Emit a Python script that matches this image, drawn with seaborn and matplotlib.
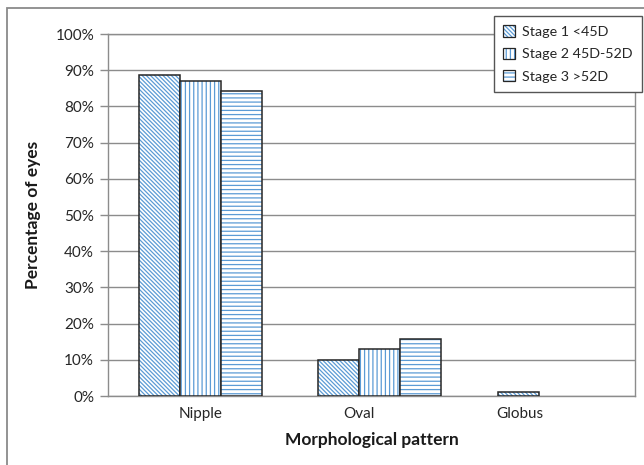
import matplotlib
matplotlib.use("Agg")
import matplotlib.pyplot as plt
from matplotlib.patches import Rectangle, Patch
from matplotlib.colors import to_rgba
import pandas as pd
import seaborn as sns

# Data: percentage of eyes per morphological pattern and keratoconus stage
patterns = ["Nipple", "Oval", "Globus"]
stages = ["Stage 1 <45D", "Stage 2 45D-52D", "Stage 3 >52D"]
stage1 = [88.8, 9.9, 1.1]
stage2 = [87.1, 13.0, 0.0]
stage3 = [84.3, 15.7, 0.0]
y_ticks = [0, 10, 20, 30, 40, 50, 60, 70, 80, 90, 100]

rows = []
for stage, vals in zip(stages, [stage1, stage2, stage3]):
    for pat, v in zip(patterns, vals):
        rows.append({"pattern": pat, "stage": stage, "pct": v})
df = pd.DataFrame(rows)

sns.set_theme(style="white")
plt.rcParams["font.family"] = ["Lato", "DejaVu Sans"]
plt.rcParams["hatch.linewidth"] = 0.9

hatch_blue = "#5b9bd5"
edge_dark = "#262626"
grid_gray = "#8c8c8c"
hatches = ["\\" * 8, "||||", "----"]


def blue_hatch(patch):
    """Give a patch a blue hatch while keeping its dark outline."""
    if hasattr(patch, "set_hatchcolor"):
        patch.set_hatchcolor(hatch_blue)
    else:
        patch._hatch_color = to_rgba(hatch_blue)


fig = plt.figure(figsize=(6.44, 4.65), dpi=100)
ax = fig.add_axes([108 / 644, 1 - 396 / 465, (635 - 108) / 644, (396 - 34) / 465])

sns.barplot(data=df, x="pattern", y="pct", hue="stage", order=patterns,
            hue_order=stages, palette=["white"] * 3, width=0.685,
            gap=0, ax=ax, legend=False, zorder=3)

# Hatch each bar in blue with a dark grey outline
for i, stage in enumerate(stages):
    for bar in ax.containers[i]:
        bar.set_hatch(hatches[i])
        if bar.get_height() > 0:
            bar.set_edgecolor(edge_dark)
            bar.set_linewidth(1.1)
        else:
            bar.set_edgecolor("none")
            bar.set_linewidth(0)
        blue_hatch(bar)

ax.set_ylim(0, 100)
ax.set_yticks(y_ticks)
ax.set_yticklabels([f"{t}%" for t in y_ticks], fontsize=11, color="#262626")
ax.set_xlim(-0.513, 2.423)
ax.set_xticks([0.0, 0.886, 1.78])
ax.set_xticklabels(patterns, fontsize=11, color="#262626")
ax.yaxis.grid(True, color=grid_gray, linewidth=1)
ax.set_axisbelow(True)
ax.tick_params(axis="y", length=6, width=1, color=grid_gray, pad=4, left=True)
ax.tick_params(axis="x", length=0, pad=8)
for s in ax.spines.values():
    s.set_visible(True)
    s.set_color(grid_gray)
    s.set_linewidth(1)

ax.set_xlabel("Morphological pattern", fontsize=12.5, fontweight="bold",
              color="#1a1a1a", labelpad=8)
ax.set_ylabel("Percentage of eyes", fontsize=12.5, fontweight="bold",
              color="#1a1a1a", labelpad=10)

# Legend with hatched swatches outlined in dark grey
handles = []
for h in hatches:
    p = Patch(facecolor="white", edgecolor=edge_dark, hatch=h, linewidth=0.9)
    blue_hatch(p)
    handles.append(p)
leg = fig.legend(handles, stages, loc="upper right",
                 bbox_to_anchor=(642 / 644, 1 - 16 / 465),
                 bbox_transform=fig.transFigure, fontsize=10.3, frameon=True,
                 fancybox=False, framealpha=1, edgecolor="#555555",
                 handlelength=0.85, handleheight=0.85, handletextpad=0.5,
                 labelspacing=0.68, borderpad=0.65, borderaxespad=0)
leg.get_frame().set_linewidth(1)

# Chart frame (left and top edges visible)
fig.patches.append(Rectangle((7 / 644, -0.2), 1.3, 1.2 - 8 / 465,
                             transform=fig.transFigure, fill=False,
                             edgecolor="#8a8a8a", linewidth=1.3, clip_on=False))

fig.savefig("out.png", dpi=100)
